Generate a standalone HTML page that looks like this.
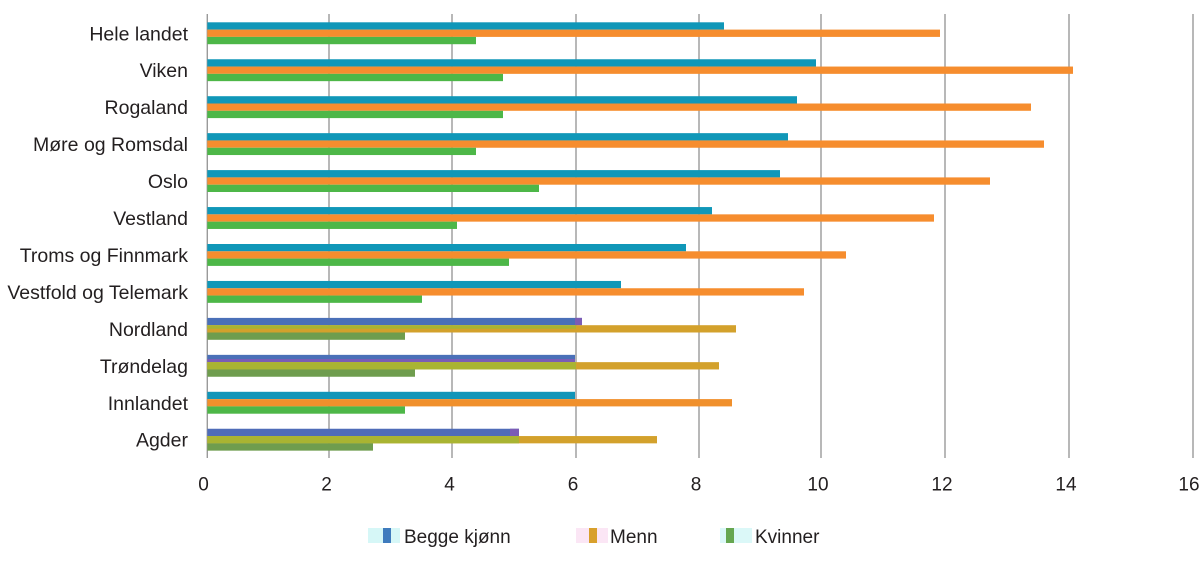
<!DOCTYPE html>
<html><head><meta charset="utf-8"><style>
html,body{margin:0;padding:0;background:#fff;}
svg{display:block;}
text{font-family:"Liberation Sans",sans-serif;fill:#231f20;}
</style></head><body>
<svg width="1200" height="564" viewBox="0 0 1200 564" xmlns="http://www.w3.org/2000/svg">
<g stroke="#9a9a9a" stroke-width="1.4">
<line x1="207.3" y1="14" x2="207.3" y2="458"/>
<line x1="329" y1="14" x2="329" y2="458"/>
<line x1="452" y1="14" x2="452" y2="458"/>
<line x1="576" y1="14" x2="576" y2="458"/>
<line x1="699" y1="14" x2="699" y2="458"/>
<line x1="821" y1="14" x2="821" y2="458"/>
<line x1="945" y1="14" x2="945" y2="458"/>
<line x1="1069" y1="14" x2="1069" y2="458"/>
<line x1="1193" y1="14" x2="1193" y2="458"/>
</g>
<g>
<!-- row 0 Hele landet -->
<rect x="207.3" y="22.3" width="516.7" height="7.3" fill="#1097b8"/>
<rect x="207.3" y="29.6" width="732.7" height="7.3" fill="#f68d2e"/>
<rect x="207.3" y="36.9" width="268.7" height="7.3" fill="#4db748"/>
<!-- row 1 Viken -->
<rect x="207.3" y="59.25" width="608.7" height="7.3" fill="#1097b8"/>
<rect x="207.3" y="66.55" width="865.7" height="7.3" fill="#f68d2e"/>
<rect x="207.3" y="73.85" width="295.7" height="7.3" fill="#4db748"/>
<!-- row 2 Rogaland -->
<rect x="207.3" y="96.2" width="589.7" height="7.3" fill="#1097b8"/>
<rect x="207.3" y="103.5" width="823.7" height="7.3" fill="#f68d2e"/>
<rect x="207.3" y="110.8" width="295.7" height="7.3" fill="#4db748"/>
<!-- row 3 Møre og Romsdal -->
<rect x="207.3" y="133.15" width="580.7" height="7.3" fill="#1097b8"/>
<rect x="207.3" y="140.45" width="836.7" height="7.3" fill="#f68d2e"/>
<rect x="207.3" y="147.75" width="268.7" height="7.3" fill="#4db748"/>
<!-- row 4 Oslo -->
<rect x="207.3" y="170.1" width="572.7" height="7.3" fill="#1097b8"/>
<rect x="207.3" y="177.4" width="782.7" height="7.3" fill="#f68d2e"/>
<rect x="207.3" y="184.7" width="331.7" height="7.3" fill="#4db748"/>
<!-- row 5 Vestland -->
<rect x="207.3" y="207.05" width="504.7" height="7.3" fill="#1097b8"/>
<rect x="207.3" y="214.35" width="726.7" height="7.3" fill="#f68d2e"/>
<rect x="207.3" y="221.65" width="249.7" height="7.3" fill="#4db748"/>
<!-- row 6 Troms og Finnmark -->
<rect x="207.3" y="244" width="478.7" height="7.3" fill="#1097b8"/>
<rect x="207.3" y="251.3" width="638.7" height="7.3" fill="#f68d2e"/>
<rect x="207.3" y="258.6" width="301.7" height="7.3" fill="#4db748"/>
<!-- row 7 Vestfold og Telemark -->
<rect x="207.3" y="280.95" width="413.7" height="7.3" fill="#1097b8"/>
<rect x="207.3" y="288.25" width="596.7" height="7.3" fill="#f68d2e"/>
<rect x="207.3" y="295.55" width="214.7" height="7.3" fill="#4db748"/>
<!-- row 8 Nordland -->
<rect x="207.3" y="317.9" width="374.7" height="7.3" fill="#4a70b8"/>
<rect x="575" y="317.9" width="7" height="7.3" fill="#7b5cb6"/>
<rect x="207.3" y="325.2" width="528.7" height="7.3" fill="#d3a12c"/>
<rect x="207.3" y="325.2" width="368.7" height="3.6" fill="#a9b432"/>
<rect x="207.3" y="332.5" width="197.7" height="7.3" fill="#6f9d4e"/>
<!-- row 9 Trøndelag -->
<rect x="207.3" y="354.85" width="367.7" height="7.3" fill="#4a70b8"/>
<rect x="207.3" y="359" width="367.7" height="3.2" fill="#7a5db5"/>
<rect x="207.3" y="362.15" width="511.7" height="7.3" fill="#d3a12c"/>
<rect x="207.3" y="362.15" width="368.7" height="7.3" fill="#a9b432"/>
<rect x="207.3" y="369.45" width="207.7" height="7.3" fill="#6f9d4e"/>
<!-- row 10 Innlandet -->
<rect x="207.3" y="391.8" width="367.7" height="7.3" fill="#1295b8"/>
<rect x="207.3" y="399.1" width="524.7" height="7.3" fill="#f0902c"/>
<rect x="207.3" y="406.4" width="197.7" height="7.3" fill="#4db748"/>
<!-- row 11 Agder -->
<rect x="207.3" y="428.75" width="311.7" height="7.3" fill="#4f6cb8"/>
<rect x="510" y="428.75" width="9" height="7.3" fill="#7b5cb6"/>
<rect x="207.3" y="436.05" width="449.7" height="7.3" fill="#d3a12c"/>
<rect x="207.3" y="436.05" width="311.7" height="7.3" fill="#a9b432"/>
<rect x="207.3" y="443.35" width="165.7" height="7.3" fill="#6f9d4e"/>
</g>
<g font-size="19.5" text-anchor="end">
<text x="188" y="40.3">Hele landet</text>
<text x="188" y="77.2">Viken</text>
<text x="188" y="114.2">Rogaland</text>
<text x="188" y="151.1">Møre og Romsdal</text>
<text x="188" y="188.1">Oslo</text>
<text x="188" y="225">Vestland</text>
<text x="188" y="262">Troms og Finnmark</text>
<text x="188" y="298.9">Vestfold og Telemark</text>
<text x="188" y="335.9">Nordland</text>
<text x="188" y="372.8">Trøndelag</text>
<text x="188" y="409.8">Innlandet</text>
<text x="188" y="446.7">Agder</text>
</g>
<g font-size="19" text-anchor="middle">
<text x="203.5" y="490.5">0</text>
<text x="326.5" y="490.5">2</text>
<text x="449.5" y="490.5">4</text>
<text x="573" y="490.5">6</text>
<text x="696" y="490.5">8</text>
<text x="818" y="490.5">10</text>
<text x="942" y="490.5">12</text>
<text x="1066" y="490.5">14</text>
<text x="1189" y="490.5">16</text>
</g>
<g>
<rect x="368" y="528" width="32" height="15" fill="#d6f7f7"/>
<rect x="383" y="528" width="8" height="15" fill="#3f7bbd"/>
<rect x="576" y="528" width="32" height="15" fill="#fbe6f5"/>
<rect x="589" y="528" width="8" height="15" fill="#d8a02c"/>
<rect x="720" y="528" width="32" height="15" fill="#dbf8f8"/>
<rect x="726" y="528" width="8" height="15" fill="#66a650"/>
</g>
<g font-size="19">
<text x="404" y="543">Begge kjønn</text>
<text x="610" y="543">Menn</text>
<text x="755" y="543">Kvinner</text>
</g>
</svg>
</body></html>
